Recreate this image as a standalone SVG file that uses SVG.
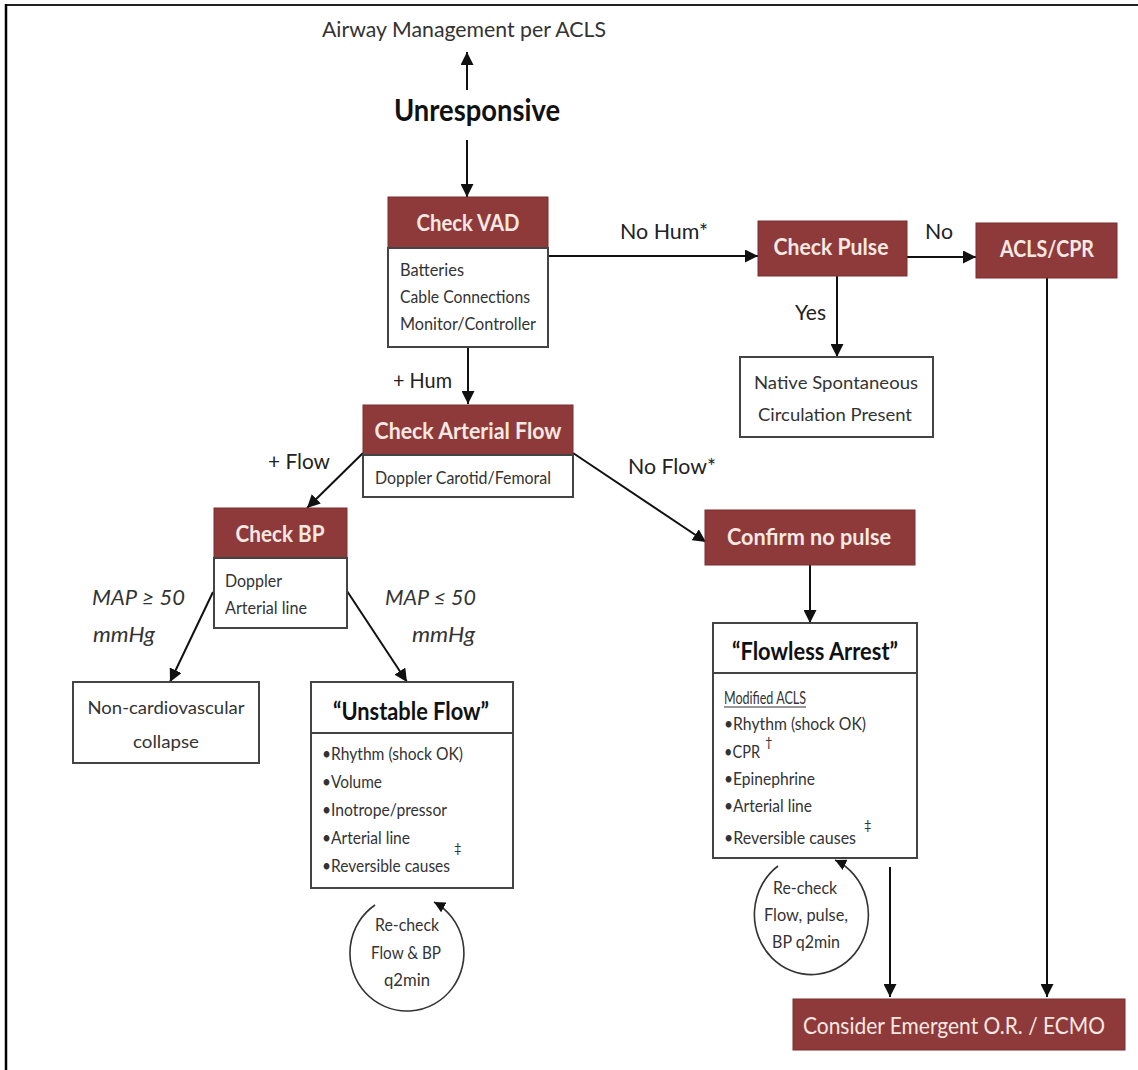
<svg xmlns="http://www.w3.org/2000/svg" width="1138" height="1070" viewBox="0 0 1138 1070">
<defs>
<marker id="ah" viewBox="0 0 10 10" refX="10" refY="5" markerWidth="6.5" markerHeight="6.5" markerUnits="strokeWidth" orient="auto">
<path d="M0,0 L10,5 L0,10 z" fill="#111"/>
</marker>
<marker id="ahs" viewBox="0 0 10 10" refX="10" refY="5" markerWidth="7" markerHeight="7" markerUnits="strokeWidth" orient="auto">
<path d="M0,0 L10,5 L0,10 z" fill="#111"/>
</marker>
<style>
text{font-family:Lato,"Liberation Sans",sans-serif;}
.hdr{fill:#8e3a3a;stroke:#7a2e2e;stroke-width:1;}
.body{fill:#fff;stroke:#444;stroke-width:2;}
.ht{fill:#f6e8e2;font-size:23px;font-weight:700;text-anchor:middle;}
.bt{fill:#333;font-size:17px;}
.btc{fill:#333;font-size:18px;text-anchor:middle;}
.lbl{fill:#222;font-size:21px;}
.map{fill:#333;font-size:21px;font-style:italic;}
.conn{stroke:#111;stroke-width:2;fill:none;}
.circ{stroke:#333;stroke-width:1.6;fill:none;}
.sup{fill:#333;font-size:13px;}
</style>
</defs>
<rect width="1138" height="1070" fill="#fff"/>
<g id="frame">
<line x1="6" y1="5" x2="1138" y2="5" stroke="#222" stroke-width="2"/>
<line x1="6" y1="4" x2="6" y2="1070" stroke="#000" stroke-width="2.5"/>
</g>

<g id="connectors">
<line class="conn" x1="467" y1="90" x2="467" y2="52" marker-end="url(#ah)"/>
<line class="conn" x1="467" y1="140" x2="467" y2="197" marker-end="url(#ah)"/>
<line class="conn" x1="548" y1="256" x2="758" y2="256" marker-end="url(#ah)"/>
<line class="conn" x1="907" y1="257" x2="976" y2="257" marker-end="url(#ah)"/>
<line class="conn" x1="837" y1="276" x2="837" y2="357" marker-end="url(#ah)"/>
<line class="conn" x1="1047" y1="278" x2="1047" y2="997" marker-end="url(#ah)"/>
<line class="conn" x1="468" y1="347" x2="468" y2="404" marker-end="url(#ah)"/>
<line class="conn" x1="363" y1="453" x2="307" y2="508" marker-end="url(#ah)"/>
<line class="conn" x1="573" y1="453" x2="706" y2="542" marker-end="url(#ah)"/>
<line class="conn" x1="213" y1="592" x2="170" y2="682" marker-end="url(#ah)"/>
<line class="conn" x1="347" y1="591" x2="407" y2="682" marker-end="url(#ah)"/>
<line class="conn" x1="810" y1="565" x2="810" y2="623" marker-end="url(#ah)"/>
<line class="conn" x1="890" y1="867" x2="890" y2="997" marker-end="url(#ah)"/>
<path class="circ" d="M375,905 A57,58 0 1 0 434,902" marker-end="url(#ahs)"/>
<path class="circ" d="M778,866 A57,60 0 1 0 835,860" marker-end="url(#ahs)"/>
</g>

<g id="labels">
<text class="lbl" x="620" y="239" textLength="88" lengthAdjust="spacingAndGlyphs">No Hum*</text>
<text class="lbl" x="925" y="239" textLength="28" lengthAdjust="spacingAndGlyphs">No</text>
<text class="lbl" x="795" y="320" textLength="31" lengthAdjust="spacingAndGlyphs">Yes</text>
<text class="lbl" x="393" y="388" textLength="59" lengthAdjust="spacingAndGlyphs">+ Hum</text>
<text class="lbl" x="268" y="469" textLength="62" lengthAdjust="spacingAndGlyphs">+ Flow</text>
<text class="lbl" x="628" y="474" textLength="88" lengthAdjust="spacingAndGlyphs">No Flow*</text>
<text class="map" x="92" y="605" textLength="93" lengthAdjust="spacingAndGlyphs">MAP ≥ 50</text>
<text class="map" x="93" y="642" textLength="62" lengthAdjust="spacingAndGlyphs">mmHg</text>
<text class="map" x="385" y="605" textLength="91" lengthAdjust="spacingAndGlyphs">MAP ≤ 50</text>
<text class="map" x="412" y="642" textLength="63" lengthAdjust="spacingAndGlyphs">mmHg</text>
</g>

<g id="airway">
<text x="464" y="37" fill="#333" font-size="22" text-anchor="middle" textLength="284" lengthAdjust="spacingAndGlyphs">Airway Management per ACLS</text>
</g>
<g id="unresponsive">
<text x="477" y="121" fill="#111" font-size="30" font-weight="700" text-anchor="middle" textLength="166" lengthAdjust="spacingAndGlyphs">Unresponsive</text>
</g>

<g id="check-vad">
<rect class="hdr" x="388" y="197" width="160" height="51"/>
<rect class="body" x="388" y="248" width="160" height="99"/>
<text class="ht" x="468" y="231" textLength="103" lengthAdjust="spacingAndGlyphs">Check VAD</text>
<text class="bt" x="400" y="276" textLength="64" lengthAdjust="spacingAndGlyphs">Batteries</text>
<text class="bt" x="400" y="303" textLength="130" lengthAdjust="spacingAndGlyphs">Cable Connections</text>
<text class="bt" x="400" y="330" textLength="136" lengthAdjust="spacingAndGlyphs">Monitor/Controller</text>
</g>

<g id="check-pulse">
<rect class="hdr" x="758" y="221" width="149" height="55"/>
<text class="ht" x="831" y="255" textLength="115" lengthAdjust="spacingAndGlyphs">Check Pulse</text>
</g>

<g id="acls-cpr">
<rect class="hdr" x="976" y="223" width="141" height="55"/>
<text class="ht" x="1047" y="257" textLength="94" lengthAdjust="spacingAndGlyphs">ACLS/CPR</text>
</g>

<g id="native">
<rect class="body" x="740" y="357" width="193" height="80"/>
<text class="btc" x="836" y="389" textLength="164" lengthAdjust="spacingAndGlyphs">Native Spontaneous</text>
<text class="btc" x="835" y="421" textLength="154" lengthAdjust="spacingAndGlyphs">Circulation Present</text>
</g>

<g id="check-arterial-flow">
<rect class="hdr" x="363" y="405" width="210" height="50"/>
<rect class="body" x="363" y="455" width="210" height="42"/>
<text class="ht" x="468" y="439" textLength="187" lengthAdjust="spacingAndGlyphs">Check Arterial Flow</text>
<text class="bt" x="375" y="484" textLength="176" lengthAdjust="spacingAndGlyphs">Doppler Carotid/Femoral</text>
</g>

<g id="check-bp">
<rect class="hdr" x="214" y="508" width="133" height="50"/>
<rect class="body" x="214" y="558" width="133" height="70"/>
<text class="ht" x="280" y="542" textLength="89" lengthAdjust="spacingAndGlyphs">Check BP</text>
<text class="bt" x="225" y="587" textLength="57" lengthAdjust="spacingAndGlyphs">Doppler</text>
<text class="bt" x="225" y="614" textLength="82" lengthAdjust="spacingAndGlyphs">Arterial line</text>
</g>

<g id="confirm-no-pulse">
<rect class="hdr" x="705" y="510" width="210" height="55"/>
<text class="ht" x="809" y="545" textLength="164" lengthAdjust="spacingAndGlyphs">Confirm no pulse</text>
</g>

<g id="non-cardiovascular">
<rect class="body" x="73" y="682" width="186" height="81"/>
<text class="btc" x="166" y="714" textLength="157" lengthAdjust="spacingAndGlyphs">Non-cardiovascular</text>
<text class="btc" x="166" y="748" textLength="66" lengthAdjust="spacingAndGlyphs">collapse</text>
</g>

<g id="unstable-flow">
<rect class="body" x="311" y="682" width="202" height="206"/>
<line x1="311" y1="733" x2="513" y2="733" stroke="#444" stroke-width="2"/>
<text x="411" y="720" fill="#111" font-size="24" font-weight="700" text-anchor="middle" textLength="156" lengthAdjust="spacingAndGlyphs">“Unstable Flow”</text>
<text class="bt" x="322" y="760" textLength="141" lengthAdjust="spacingAndGlyphs">•Rhythm (shock OK)</text>
<text class="bt" x="322" y="788" textLength="60" lengthAdjust="spacingAndGlyphs">•Volume</text>
<text class="bt" x="322" y="816" textLength="125" lengthAdjust="spacingAndGlyphs">•Inotrope/pressor</text>
<text class="bt" x="322" y="844" textLength="88" lengthAdjust="spacingAndGlyphs">•Arterial line</text>
<text class="bt" x="322" y="872" textLength="128" lengthAdjust="spacingAndGlyphs">•Reversible causes</text>
<text class="sup" x="454" y="853">‡</text>
</g>

<g id="recheck-1">
<text class="btc" x="407" y="931" font-size="17" textLength="64" lengthAdjust="spacingAndGlyphs">Re-check</text>
<text class="btc" x="406" y="959" font-size="17" textLength="70" lengthAdjust="spacingAndGlyphs">Flow &amp; BP</text>
<text class="btc" x="407" y="986" font-size="17" textLength="46" lengthAdjust="spacingAndGlyphs">q2min</text>
</g>

<g id="flowless-arrest">
<rect class="body" x="713" y="623" width="204" height="235"/>
<line x1="713" y1="673" x2="917" y2="673" stroke="#444" stroke-width="2"/>
<text x="815" y="660" fill="#111" font-size="24" font-weight="700" text-anchor="middle" textLength="166" lengthAdjust="spacingAndGlyphs">“Flowless Arrest”</text>
<text class="bt" x="724" y="704" textLength="82" lengthAdjust="spacingAndGlyphs">Modified ACLS</text>
<line x1="724" y1="707" x2="806" y2="707" stroke="#333" stroke-width="1.2"/>
<text class="bt" x="724" y="730" textLength="142" lengthAdjust="spacingAndGlyphs">•Rhythm (shock OK)</text>
<text class="bt" x="724" y="758" textLength="36" lengthAdjust="spacingAndGlyphs">•CPR</text>
<text class="sup" x="765" y="747" font-size="10">†</text>
<text class="bt" x="724" y="785" textLength="91" lengthAdjust="spacingAndGlyphs">•Epinephrine</text>
<text class="bt" x="724" y="812" textLength="88" lengthAdjust="spacingAndGlyphs">•Arterial line</text>
<text class="bt" x="724" y="844" textLength="132" lengthAdjust="spacingAndGlyphs">•Reversible causes</text>
<text class="sup" x="864" y="830" font-size="12">‡</text>
</g>

<g id="recheck-2">
<text class="btc" x="805" y="894" font-size="17" textLength="64" lengthAdjust="spacingAndGlyphs">Re-check</text>
<text class="btc" x="806" y="921" font-size="17" textLength="84" lengthAdjust="spacingAndGlyphs">Flow, pulse,</text>
<text class="btc" x="806" y="948" font-size="17" textLength="68" lengthAdjust="spacingAndGlyphs">BP q2min</text>
</g>

<g id="consider-or-ecmo">
<rect class="hdr" x="793" y="999" width="332" height="51"/>
<text x="954" y="1034" fill="#f6e8e2" font-size="23" text-anchor="middle" textLength="302" lengthAdjust="spacingAndGlyphs">Consider Emergent O.R. / ECMO</text>
</g>
</svg>
